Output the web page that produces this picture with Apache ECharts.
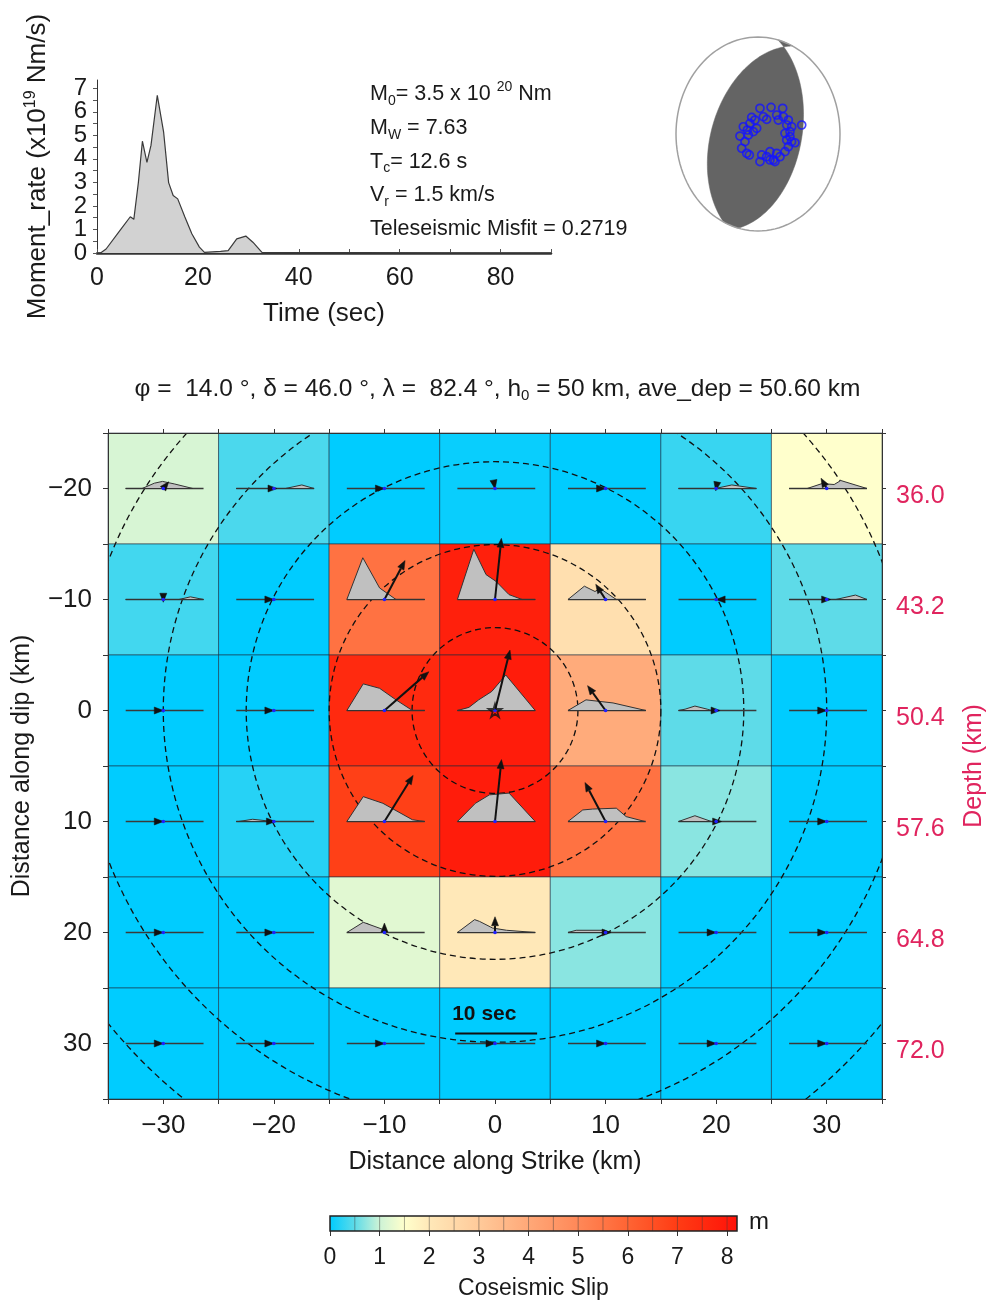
<!DOCTYPE html>
<html><head><meta charset="utf-8">
<script src="https://cdn.jsdelivr.net/npm/echarts@6/dist/echarts.min.js"></script>
<style>html,body{margin:0;padding:0;background:#fff}#c{width:995px;height:1302px}</style>
</head><body><div id="c"></div><script>
// ================= DATA =================
// Moment-rate function (x10^19 Nm/s)
const mrTime = [0,0.7,1.8,4.6,6.6,7.3,8.2,9.0,9.9,10.7,11.95,13.2,14.2,15.1,16.0,17.4,18.8,20.3,21.3,24.5,26,27.7,29.5,30.9,32.7,90];
const mrRate = [0,0,0.17,0.97,1.54,1.43,2.99,4.75,3.85,4.57,6.7,5.15,2.99,2.44,2.3,1.54,0.82,0.25,0.03,0.07,0.1,0.6,0.72,0.46,0.03,0];
const mrTimeLabels = [0,20,40,60,80];
const mrRateLabelsEven = [0,2,4,6];
const mrRateLabelsOdd = [1,3,5,7];

// Focal mechanism / summary
const focalStrike = 14.0, focalDip = 46.0, focalRake = 82.4;
const hypoDepth = 50, aveDepth = 50.60;
const summaryLines = ['M{sub|0}= 3.5 x 10 {sup|20} Nm','M{sub|W} = 7.63','T{sub|c}= 12.6 s','V{sub|r} = 1.5 km/s','Teleseismic Misfit = 0.2719'];

// Station positions on the focal sphere (projected, unit circle)
const stationX = [0.024,0.159,0.301,-0.077,0.065,-0.179,-0.22,-0.199,-0.138,-0.106,0.024,0.045,0.146,0.228,0.187,0.268,0.329,0.37,0.39,0.411,0.37,0.309,0.228,0.533,0.451,-0.118,-0.159,-0.016,-0.057,0.329,0.35,0.207,0.146,0.106,0.248,0.35,0.39,-0.098,-0.13,0.106,-0.037,0.41];
const stationY = [0.265,0.275,0.265,0.172,0.178,0.075,-0.021,-0.147,-0.199,-0.216,-0.285,-0.216,-0.182,-0.199,-0.268,-0.234,-0.182,-0.131,-0.027,0.075,0.144,0.178,0.196,0.093,-0.09,-0.01,-0.079,0.059,0.024,0.007,-0.062,-0.285,-0.268,0.151,0.144,0.093,0.024,0.11,0.041,-0.234,0.144,-0.079];

// Fault grid
const strikeKm = [-30,-20,-10,0,10,20,30];
const dipKm = [-20,-10,0,10,20,30];
const depthLabels = ['36.0','43.2','50.4','57.6','64.8','72.0'];
const slip = [ // m, rows along dip, columns along strike
  [1.1, 0.4, 0.0, 0.05, 0.0, 0.3, 1.5],
  [0.35,0.0, 5.6, 7.8, 2.3, 0.0, 0.5],
  [0.0, 0.0, 7.5, 7.9, 3.9, 0.5, 0.0],
  [0.0, 0.2, 6.9, 7.9, 5.6, 0.7, 0.0],
  [0.0, 0.0, 1.2, 2.0, 0.7, 0.0, 0.0],
  [0.0, 0.0, 0.0, 0.0, 0.0, 0.0, 0.0]
];
const rake = [ // degrees
  [51, 0, 0, -80, 0, -100, 119],
  [-90, 0, 62, 84, 123, 180, 0],
  [0, 0, 41, 76, 126, 0, 0],
  [0, 0, 58, 84, 118, 0, 0],
  [0, 0, 90, 90, 0, 0, 0],
  [0, 0, 0, 0, 0, 0, 0]
];
// Subfault slip-rate functions: [time (s), rate (m/s)] per cell, row-major
const stf = [
  [[0,0],[2,0],[3.5,0.12],[4.5,0.16],[6,0.1],[8.2,0]],
  [[0,0],[6,0],[8,0.08],[9.5,0]],
  [], [], [],
  [[0,0],[4.5,0],[6.5,0.08],[9.5,0]],
  [[0,0],[2.2,0],[4,0.11],[5.5,0.09],[6.3,0.18],[9.5,0]],

  [[0,0],[6.5,0],[7.9,0.06],[9.5,0]],
  [],
  [[0,0],[1.95,0.94],[4,0.26],[6,0],[9.5,0]],
  [[0,0],[2,1.13],[3.5,0.56],[4.7,0.41],[6.3,0.11],[7.9,0],[9.5,0]],
  [[0,0],[2,0.3],[3.3,0.18],[3.9,0.25],[5.9,0],[9.5,0]],
  [],
  [[0,0],[5.7,0],[8.1,0.1],[9.5,0]],

  [], [],
  [[0,0],[2,0.6],[4,0.5],[6,0.24],[8,0],[9.5,0]],
  [[0,0],[1.4,0.07],[2.6,0.24],[4.2,0.43],[5.9,0.8],[9.5,0]],
  [[0,0],[2.2,0.24],[5.5,0.17],[9.5,0]],
  [[0,0],[0.8,0.03],[2,0.1],[3.5,0.03],[4,0]],
  [],

  [],
  [[0,0],[0.3,0],[2,0.05],[4.5,0]],
  [[0,0],[2,0.56],[4.4,0.41],[8,0.04],[9.5,0]],
  [[0,0],[2.2,0.41],[3.9,0.6],[6.3,0.64],[9.5,0]],
  [[0,0],[1.8,0.26],[3,0.28],[5.9,0.3],[7.1,0.11],[9.4,0]],
  [[0,0],[2,0.13],[4,0]],
  [],

  [], [],
  [[0,0],[2,0.23],[4.4,0.07],[5,0]],
  [[0,0],[2.1,0.29],[2.7,0.25],[4.3,0.1],[6,0.05],[9.5,0]],
  [[0,0],[1,0.05],[4.5,0.05],[5,0]],
  [], [],

  [],[],[],[],[],[],[]
];
const hypo = [0, 0];
const ruptureRadius = [7.5, 15, 22.5, 30, 37.5, 45]; // km (5 s steps at 1.5 km/s)
const scaleBar = [-3.6, 29.1, 10]; // x, y (km), seconds

// Colour scale
const cbVals = [0, 0.5, 1.0, 1.5, 2.0, 3.0, 4.0, 5.0, 6.0, 7.0, 8.2];
const cbCols = ['#00ccff','#5edbe8','#cdf3d6','#ffffcc','#ffe8b8','#ffca9a','#ffa878','#ff8858','#ff6433','#ff3c14','#ff1208'];
const cbLabels = [0,1,2,3,4,5,6,7,8];

// ================= HELPERS =================
const FONT = "'Liberation Sans', Arial, Helvetica, sans-serif";
const TXT = '#1a1a1a';
const DEPTHC = '#e0245e';
function hex2rgb(h){return [parseInt(h.slice(1,3),16),parseInt(h.slice(3,5),16),parseInt(h.slice(5,7),16)];}
function slipColor(v){
  if (v <= cbVals[0]) return cbCols[0];
  for (let i=1;i<cbVals.length;i++){
    if (v <= cbVals[i]){
      const f=(v-cbVals[i-1])/(cbVals[i]-cbVals[i-1]);
      const A=hex2rgb(cbCols[i-1]),B=hex2rgb(cbCols[i]);
      return 'rgb('+A.map((x,k)=>Math.round(x+(B[k]-x)*f)).join(',')+')';
    }
  }
  return cbCols[cbCols.length-1];
}
const fmtMinus = v => (v<0 ? '\u2212'+Math.abs(v) : String(v));

const cellData = [];
dipKm.forEach((y,r)=>strikeKm.forEach((x,c)=>{
  cellData.push([x, y, slip[r][c], rake[r][c], r*strikeKm.length+c]);
}));

const ARROW_KM_PER_M = 0.71;   // slip vector length scale
const STF_T0 = -3.4;           // km offset of STF time origin from cell centre
const STF_KM_PER_S = 0.741;    // time scale of STF (10 s = scale bar)
const STF_WIN = 9.5;           // s
const STF_KM_PER_RATE = 4;     // amplitude scale

// ---------- focal mechanism geometry ----------
function cross(a,b){return [a[1]*b[2]-a[2]*b[1], a[2]*b[0]-a[0]*b[2], a[0]*b[1]-a[1]*b[0]];}
function dot(a,b){return a[0]*b[0]+a[1]*b[1]+a[2]*b[2];}
function planeVecs(s,d){ // N,E,Down
  return [[Math.cos(s),Math.sin(s),0],[-Math.sin(s)*Math.cos(d),Math.cos(s)*Math.cos(d),Math.sin(d)]];
}
function projEA(v){
  let w=v; if (w[2]<0) w=w.map(q=>-q);
  const h=Math.hypot(w[0],w[1]);
  const th=Math.acos(Math.min(1,w[2]));
  const r=Math.SQRT2*Math.sin(th/2);
  if (h<1e-9) return [0,0];
  return [r*w[1]/h, r*w[0]/h];
}
function beachballPolys(){
  const d2r=Math.PI/180;
  const s1=focalStrike*d2r, d1=focalDip*d2r, rk=focalRake*d2r;
  const n=[-Math.sin(d1)*Math.sin(s1), Math.sin(d1)*Math.cos(s1), -Math.cos(d1)];
  const sv=[Math.cos(rk)*Math.cos(s1)+Math.sin(rk)*Math.cos(d1)*Math.sin(s1),
            Math.cos(rk)*Math.sin(s1)-Math.sin(rk)*Math.cos(d1)*Math.cos(s1),
            -Math.sin(rk)*Math.sin(d1)];
  let m=sv.slice(); if (m[2]>0) m=m.map(q=>-q);
  const d2=Math.acos(-m[2]);
  let s2=Math.atan2(-m[0], m[1]); if (s2<0) s2+=2*Math.PI;
  let B=cross(n,sv); if (B[2]<0) B=B.map(q=>-q);
  const P1=planeVecs(s1,d1), P2=planeVecs(s2,d2);
  const tB1=Math.atan2(dot(B,P1[1]),dot(B,P1[0]));
  const tB2=Math.atan2(dot(B,P2[1]),dot(B,P2[0]));
  const arc=(P,t0,t1)=>{const o=[];const N=60;for(let i=0;i<=N;i++){const t=t0+(t1-t0)*i/N;
    o.push(projEA([Math.cos(t)*P[0][0]+Math.sin(t)*P[1][0],Math.cos(t)*P[0][1]+Math.sin(t)*P[1][1],Math.cos(t)*P[0][2]+Math.sin(t)*P[1][2]]));}return o;};
  const perim=(a0,a1)=>{const o=[];const N=20;for(let i=0;i<=N;i++){const a=a0+(a1-a0)*i/N;o.push([Math.sin(a),Math.cos(a)]);}return o;};
  const lens=[].concat(arc(P1,tB1,Math.PI), perim(s1+Math.PI, s2), arc(P2,0,tB2));
  const sliver=[].concat(arc(P1,0,tB1), arc(P2,tB2,Math.PI), perim(s2-Math.PI, s1));
  return [lens, sliver];
}

// ================= CHART =================
const chart = echarts.init(document.getElementById('c'), null, {renderer:'canvas'});
const richSub = {
  sub:{fontSize:14, verticalAlign:'bottom', lineHeight:14, fontFamily:FONT, fill:TXT, color:TXT},
  sup:{fontSize:14, verticalAlign:'top', lineHeight:16, fontFamily:FONT, fill:TXT, color:TXT}
};
const titleText = `\u03c6 =  ${focalStrike.toFixed(1)} \u00b0, \u03b4 = ${focalDip.toFixed(1)} \u00b0, \u03bb =  ${focalRake.toFixed(1)} \u00b0, h{sub|0} = ${hypoDepth} km, ave_dep = ${aveDepth.toFixed(2)} km`;

const mainTickVals = [-35,-30,-25,-20,-15,-10,-5,0,5,10,15,20,25,30,35];
const dipTickVals = [-25,-20,-15,-10,-5,0,5,10,15,20,25,30,35];
const mrLabelStyle = {fontSize:24, color:TXT, margin:10, fontFamily:FONT};

const option = {
  animation:false,
  backgroundColor:'#ffffff',
  textStyle:{fontFamily:FONT},
  title:{
    text: titleText, left:'center', top:370,
    textStyle:{fontSize:24.5, fontWeight:'normal', color:TXT, fontFamily:FONT, lineHeight:28,
      rich:{sub:{fontSize:15, verticalAlign:'bottom', lineHeight:14, color:TXT, fontFamily:FONT}}}
  },
  grid:[
    {left:108, top:433, width:775, height:666},
    {left:97, top:80, width:454, height:173},
    {left:676, top:37, width:164, height:194},
    {left:330, top:1216, width:407, height:15}
  ],
  xAxis:[
    {gridIndex:0, type:'value', min:-35, max:35, position:'bottom', z:10,
     axisLine:{show:true,onZero:false,lineStyle:{color:'#333',width:1}},
     axisTick:{show:true,customValues:mainTickVals,length:5,lineStyle:{color:'#333'}},
     axisLabel:{customValues:strikeKm, formatter:fmtMinus, fontSize:26, color:TXT, margin:14, fontFamily:FONT, showMinLabel:true, showMaxLabel:true},
     splitLine:{show:false},
     name:'Distance along Strike (km)', nameLocation:'middle', nameGap:51,
     nameTextStyle:{fontSize:25, color:TXT, fontFamily:FONT}},
    {gridIndex:0, type:'value', min:-35, max:35, position:'top', z:10,
     axisLine:{show:true,onZero:false,lineStyle:{color:'#333',width:1}},
     axisTick:{show:true,customValues:mainTickVals,length:4,lineStyle:{color:'#333'}},
     axisLabel:{show:false}, splitLine:{show:false}},
    {gridIndex:1, type:'value', min:0, max:90,
     axisLine:{show:true,onZero:false,lineStyle:{color:'#333',width:2.5}},
     axisTick:{show:true,inside:true,customValues:[0,10,20,30,40,50,60,70,80,90],length:4,lineStyle:{color:'#555'}},
     axisLabel:{customValues:mrTimeLabels, fontSize:25, color:TXT, margin:13, fontFamily:FONT, showMinLabel:true, showMaxLabel:true},
     splitLine:{show:false},
     name:'Time (sec)', nameLocation:'middle', nameGap:48,
     nameTextStyle:{fontSize:26, color:TXT, fontFamily:FONT}},
    {gridIndex:2, type:'value', min:-1, max:1, show:false},
    {gridIndex:3, type:'value', min:0, max:cbVals[cbVals.length-1],
     axisLine:{show:false},
     axisTick:{show:true,customValues:cbLabels,length:5,lineStyle:{color:'#333'}},
     axisLabel:{customValues:cbLabels, fontSize:23, color:TXT, margin:15, fontFamily:FONT, showMinLabel:true, showMaxLabel:true},
     splitLine:{show:false},
     name:'Coseismic Slip', nameLocation:'middle', nameGap:46,
     nameTextStyle:{fontSize:23, color:TXT, fontFamily:FONT}}
  ],
  yAxis:[
    {gridIndex:0, type:'value', min:-25, max:35, inverse:true, position:'left', z:10,
     axisLine:{show:true,onZero:false,lineStyle:{color:'#333',width:1}},
     axisTick:{show:true,customValues:dipTickVals,length:5,lineStyle:{color:'#333'}},
     axisLabel:{customValues:dipKm, formatter:fmtMinus, fontSize:26, color:TXT, margin:16, fontFamily:FONT, showMinLabel:true, showMaxLabel:true},
     splitLine:{show:false},
     name:'Distance along dip (km)', nameLocation:'middle', nameGap:73, nameRotate:90,
     nameTextStyle:{fontSize:25, color:TXT, fontFamily:FONT}},
    {gridIndex:0, type:'value', min:-25, max:35, inverse:true, position:'right', z:10,
     axisLine:{show:true,onZero:false,lineStyle:{color:'#333',width:1}},
     axisTick:{show:true,customValues:dipTickVals,length:4,lineStyle:{color:'#333'}},
     axisLabel:{customValues:dipKm, formatter:v=>depthLabels[dipKm.indexOf(Math.round(v))], fontSize:25, color:DEPTHC, margin:14, fontFamily:FONT, verticalAlign:'top', lineHeight:16, showMinLabel:true, showMaxLabel:true},
     splitLine:{show:false},
     name:'Depth (km)', nameLocation:'middle', nameGap:80, nameRotate:90,
     nameTextStyle:{fontSize:25, color:DEPTHC, fontFamily:FONT}},
    {gridIndex:1, type:'value', min:0, max:7.35,
     axisLine:{show:true,onZero:false,lineStyle:{color:'#333',width:1}},
     axisTick:{show:true,customValues:[0,0.5,1,1.5,2,2.5,3,3.5,4,4.5,5,5.5,6,6.5,7],length:4,lineStyle:{color:'#555'}},
     axisLabel:Object.assign({customValues:mrRateLabelsEven, showMinLabel:true, showMaxLabel:true}, mrLabelStyle),
     splitLine:{show:false},
     name:'Moment_rate (x10{sup|19} Nm/s)', nameLocation:'middle', nameGap:44, nameRotate:90,
     nameTextStyle:{fontSize:26, color:TXT, fontFamily:FONT, lineHeight:30,
       rich:{sup:{fontSize:16, verticalAlign:'top', lineHeight:16, color:TXT, fontFamily:FONT}}}},
    {gridIndex:2, type:'value', min:-1, max:1, show:false},
    {gridIndex:3, type:'value', min:0, max:1, show:false},
    {gridIndex:1, type:'value', min:0, max:7.35, position:'left', offset:0,
     axisLine:{show:false}, axisTick:{show:false}, splitLine:{show:false},
     axisLabel:Object.assign({customValues:mrRateLabelsOdd, showMinLabel:true, showMaxLabel:true}, mrLabelStyle)}
  ],
  series:[
    // ---- slip cells ----
    {type:'custom', name:'cells', xAxisIndex:0, yAxisIndex:0, z:1, data:cellData, silent:true,
     renderItem:(p,api)=>{
       const x=api.value(0), y=api.value(1), s=api.value(2);
       const a=api.coord([x-5,y-5]), b=api.coord([x+5,y+5]);
       return {type:'rect', shape:{x:Math.min(a[0],b[0]), y:Math.min(a[1],b[1]), width:Math.abs(b[0]-a[0]), height:Math.abs(b[1]-a[1])},
         style:{fill:slipColor(s), stroke:'rgba(25,40,60,0.55)', lineWidth:1}};
     }},
    // ---- rupture front contours ----
    {type:'custom', name:'contours', xAxisIndex:0, yAxisIndex:0, z:2, clip:true, silent:true,
     data: ruptureRadius.map(r=>[hypo[0],hypo[1],r]),
     renderItem:(p,api)=>{
       const c=api.coord([api.value(0),api.value(1)]);
       const r=api.size([api.value(2),0])[0];
       return {type:'circle', shape:{cx:c[0],cy:c[1],r:r},
         style:{fill:'none', stroke:'#111', lineWidth:1.3, lineDash:[6,4]}};
     }},
    // ---- slip-rate functions ----
    {type:'custom', name:'stf', xAxisIndex:0, yAxisIndex:0, z:3, data:cellData, silent:true,
     renderItem:(p,api)=>{
       const x=api.value(0), y=api.value(1), idx=api.value(4);
       const pts=stf[idx];
       const b0=api.coord([x+STF_T0,y]), b1=api.coord([x+STF_T0+STF_WIN*STF_KM_PER_S,y]);
       const children=[{type:'line', shape:{x1:b0[0],y1:b0[1],x2:b1[0],y2:b1[1]}, style:{stroke:'#3a3a3a', lineWidth:1.3}}];
       if (pts && pts.length){
         const poly=pts.map(q=>api.coord([x+STF_T0+q[0]*STF_KM_PER_S, y-q[1]*STF_KM_PER_RATE]));
         children.push({type:'polygon', shape:{points:poly}, style:{fill:'#c0c0c0', stroke:'#333', lineWidth:1}});
       }
       return {type:'group', children};
     }},
    // ---- slip vectors ----
    {type:'custom', name:'vectors', xAxisIndex:0, yAxisIndex:0, z:4, data:cellData, silent:true,
     renderItem:(p,api)=>{
       const x=api.value(0), y=api.value(1), s=api.value(2), rk=api.value(3)*Math.PI/180;
       const L=s*ARROW_KM_PER_M;
       const p0=api.coord([x,y]);
       const p1=api.coord([x+L*Math.cos(rk), y-L*Math.sin(rk)]);
       const dx=Math.cos(rk), dy=-Math.sin(rk);
       const hl=9, hw=3.5;
       const bx=p1[0]-dx*hl, by=p1[1]-dy*hl;
       const children=[];
       const len=Math.hypot(p1[0]-p0[0],p1[1]-p0[1]);
       if (len>hl) children.push({type:'line', shape:{x1:p0[0],y1:p0[1],x2:bx,y2:by}, style:{stroke:'#111', lineWidth:2}});
       children.push({type:'polygon', shape:{points:[[p1[0],p1[1]],[bx-dy*hw,by+dx*hw],[bx+dy*hw,by-dx*hw]]}, style:{fill:'#111', stroke:'#111', lineWidth:0.5}});
       children.push({type:'circle', shape:{cx:p0[0],cy:p0[1],r:1.8}, style:{fill:'#2020ff'}});
       return {type:'group', children};
     }},
    // ---- hypocentre ----
    {type:'scatter', xAxisIndex:0, yAxisIndex:0, z:6, silent:true, data:[hypo],
     symbol:'path://M50,0 L61,35 L98,35 L68,57 L79,91 L50,70 L21,91 L32,57 L2,35 L39,35 Z',
     symbolSize:13, itemStyle:{color:'rgba(0,0,0,0)', borderColor:'#111', borderWidth:1.8}},
    // ---- 10 sec scale bar ----
    {type:'custom', xAxisIndex:0, yAxisIndex:0, z:6, silent:true, data:[scaleBar],
     renderItem:(p,api)=>{
       const a=api.coord([api.value(0),api.value(1)]);
       const b=api.coord([api.value(0)+api.value(2)*STF_KM_PER_S,api.value(1)]);
       const t=api.coord([api.value(0),api.value(1)-1.75]);
       return {type:'group', children:[
         {type:'line', shape:{x1:a[0],y1:a[1],x2:b[0],y2:b[1]}, style:{stroke:'#111',lineWidth:2}},
         {type:'text', x:t[0]-3, y:t[1], style:{text:api.value(2)+' sec', fontSize:21, fontWeight:'bold', fontFamily:FONT, fill:'#111', align:'left', verticalAlign:'middle'}}
       ]};
     }},
    // ---- moment rate ----
    {type:'line', xAxisIndex:2, yAxisIndex:2, data:mrTime.map((t,i)=>[t,mrRate[i]]), showSymbol:false, symbol:'none',
     lineStyle:{color:'#3a3a3a', width:1.2}, areaStyle:{color:'#d2d2d2', opacity:1}, silent:true, z:2},
    // ---- beachball ----
    {type:'custom', xAxisIndex:3, yAxisIndex:3, z:2, silent:true, data:[[0,0]],
     renderItem:(p,api)=>{
       const polys=beachballPolys();
       const children=[];
       const circ=[];for(let i=0;i<=120;i++){const a=i/120*2*Math.PI;circ.push(api.coord([Math.cos(a),Math.sin(a)]));}
       children.push({type:'polygon', shape:{points:circ}, style:{fill:'#fff', stroke:'none'}});
       polys.forEach(pl=>children.push({type:'polygon', shape:{points:pl.map(q=>api.coord(q))}, style:{fill:'#646464', stroke:'#646464', lineWidth:0.5}}));
       children.push({type:'polygon', shape:{points:circ}, style:{fill:'none', stroke:'#a0a0a0', lineWidth:1.5}});
       return {type:'group', children};
     }},
    {type:'scatter', xAxisIndex:3, yAxisIndex:3, z:5, silent:true, data:stationX.map((x,i)=>[x,stationY[i]]),
     symbol:'circle', symbolSize:8, itemStyle:{color:'rgba(0,0,0,0)', borderColor:'#1414ff', borderWidth:1.7}},
    // ---- colour bar ----
    {type:'custom', xAxisIndex:4, yAxisIndex:4, z:2, silent:true, data:[[0,cbVals[cbVals.length-1]]],
     renderItem:(p,api)=>{
       const v0=api.value(0), v1=api.value(1);
       const a=api.coord([v0,0]), b=api.coord([v1,1]);
       const stops=cbVals.map((v,i)=>({offset:(v-v0)/(v1-v0), color:cbCols[i]}));
       const children=[{type:'rect', shape:{x:a[0],y:b[1],width:b[0]-a[0],height:a[1]-b[1]},
         style:{fill:new echarts.graphic.LinearGradient(0,0,1,0,stops)}}];
       for (let v=0.5; v<v1-0.01; v+=0.5){
         const c=api.coord([v,0]), d=api.coord([v,1]);
         children.push({type:'line', shape:{x1:c[0],y1:c[1],x2:d[0],y2:d[1]}, style:{stroke:'rgba(60,60,60,0.45)', lineWidth:1}});
       }
       children.push({type:'rect', shape:{x:a[0],y:b[1],width:b[0]-a[0],height:a[1]-b[1]}, style:{fill:'none', stroke:'#222', lineWidth:1.5}});
       return {type:'group', children};
     }}
  ],
  graphic: summaryLines.map((t,i)=>({
      type:'text', x:370, y:94+i*33.8, z:10,
      style:{text:t, fontSize:21.5, fontFamily:FONT, fill:TXT, verticalAlign:'middle', lineHeight:28, rich:richSub}
    })).concat([
      {type:'text', x:749, y:1222, z:10, style:{text:'m', fontSize:24, fontFamily:FONT, fill:TXT, verticalAlign:'middle'}}
    ])
};
chart.setOption(option);
</script></body></html>
